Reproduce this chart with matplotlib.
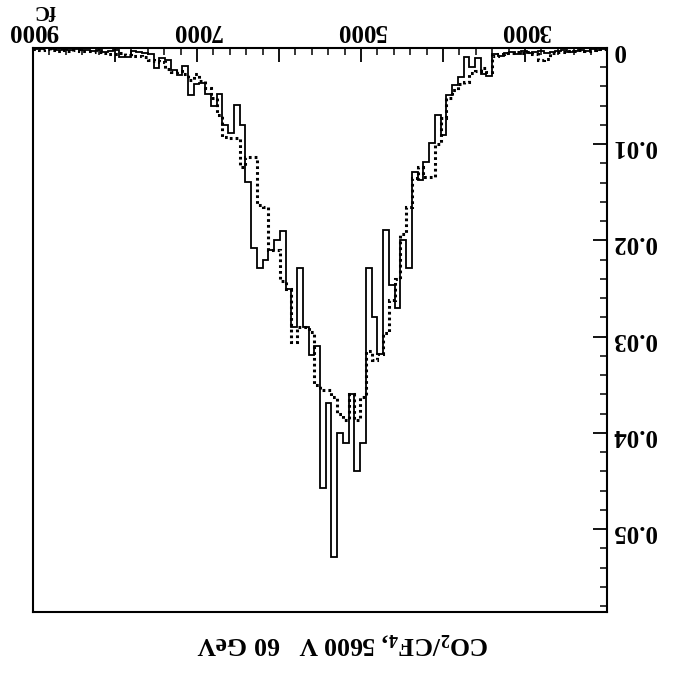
import numpy as np
import matplotlib
matplotlib.use("Agg")
import matplotlib.pyplot as plt
from matplotlib.ticker import MultipleLocator, FuncFormatter

plt.rcParams['font.family'] = 'Liberation Serif'
plt.rcParams['font.weight'] = 'bold'
plt.rcParams['mathtext.fontset'] = 'custom'
plt.rcParams['mathtext.rm'] = 'Liberation Serif:bold'
plt.rcParams['mathtext.bf'] = 'Liberation Serif:bold'

# charge spectrum, 100 bins of 70 fC from 2000 to 9000 fC (values in units of 1e-3)
q_lo, q_hi, n_bins = 2000, 9000, 100
solid_pm = [0.1, 0.2, 0.1, 0.3, 0.2, 0.3, 0.4, 0.2, 0.3, 0.4,
            0.5, 0.3, 0.4, 0.5, 0.3, 0.6, 0.4, 0.5, 0.8, 0.6,
            2.9, 2.7, 1.0, 2.0, 0.9, 3.0, 3.8, 4.9, 9.0, 7.0,
            9.9, 11.8, 13.7, 12.9, 22.9, 20.0, 27.0, 24.6, 18.9, 31.8,
            28.0, 22.9, 41.0, 43.9, 35.9, 41.0, 40.0, 52.9, 36.9, 45.7,
            31.0, 31.9, 29.0, 22.9, 29.0, 25.0, 19.0, 20.0, 21.0, 22.0,
            22.9, 20.8, 13.9, 8.0, 5.9, 8.8, 8.0, 4.8, 6.0, 4.8,
            3.6, 3.7, 4.9, 1.9, 2.8, 2.3, 1.2, 1.0, 2.1, 0.6,
            0.5, 0.4, 0.3, 0.9, 0.9, 0.2, 0.3, 0.4, 0.2, 0.3,
            0.2, 0.2, 0.1, 0.2, 0.1, 0.2, 0.1, 0.0, 0.1, 0.1]
dotted_pm = [0.1, 0.1, 0.2, 0.3, 0.2, 0.3, 0.3, 0.4, 0.4, 0.5,
             1.1, 1.2, 0.6, 0.4, 0.5, 0.4, 0.5, 0.5, 0.6, 0.8,
             2.5, 2.1, 2.4, 2.6, 3.5, 3.7, 4.4, 5.2, 7.3, 10.0,
             13.4, 13.4, 12.4, 13.5, 16.5, 19.3, 24.0, 26.2, 29.6, 31.8,
             32.4, 31.5, 36.3, 38.7, 35.9, 38.7, 38.0, 36.3, 35.5, 35.5,
             35.0, 29.5, 29.0, 29.0, 30.5, 25.0, 24.2, 21.0, 21.0, 16.5,
             16.3, 11.3, 11.3, 12.4, 9.4, 9.4, 9.2, 7.0, 5.2, 4.2,
             3.4, 2.7, 3.3, 2.7, 2.4, 2.5, 2.2, 1.5, 1.4, 1.2,
             0.9, 0.8, 0.8, 0.7, 0.5, 0.6, 0.6, 0.5, 0.4, 0.3,
             0.3, 0.3, 0.2, 0.3, 0.2, 0.3, 0.2, 0.1, 0.2, 0.1]

edges = np.linspace(q_lo, q_hi, n_bins + 1)
solid = np.array(solid_pm) * 1e-3
dotted = np.array(dotted_pm) * 1e-3

fig = plt.figure(figsize=(6.85, 6.74), dpi=100)
ax = fig.add_axes([33 / 685, 1 - 612 / 674, 574 / 685, 564 / 674])

ax.stairs(solid, edges, baseline=None, color='black', lw=1.3)
ax.stairs(dotted, edges, baseline=None, color='black', lw=2.2, linestyle=(0, (0.9, 1.0)))

# page is printed upside down
ax.set_xlim(q_hi, q_lo)
ax.set_ylim(0.0586, 0)

ax.xaxis.tick_top()
ax.yaxis.tick_right()
ax.xaxis.set_major_locator(MultipleLocator(1000))
ax.xaxis.set_minor_locator(MultipleLocator(200))
ax.yaxis.set_major_locator(MultipleLocator(0.01))
ax.yaxis.set_minor_locator(MultipleLocator(0.002))
ax.xaxis.set_major_formatter(FuncFormatter(lambda v, p: f"{v:.0f}" if int(round(v)) % 2000 == 1000 else ""))
ax.yaxis.set_major_formatter(FuncFormatter(lambda v, p: "0" if abs(v) < 1e-9 else f"{v:.2f}"))
ax.tick_params(which='major', direction='in', length=10, width=1.3, labelsize=18, labelrotation=180, pad=4)
ax.tick_params(which='minor', direction='in', length=5, width=1.1)
for s in ax.spines.values():
    s.set_linewidth(1.5)

fig.text(45 / 685, 1 - 10 / 674, "fC", rotation=180, ha='center', va='center', fontsize=15)
fig.text(343 / 685, 1 - 643 / 674, r"CO$_\mathbf{2}$/CF$_\mathbf{4}$, 5600 V   60 GeV",
         rotation=180, ha='center', va='center', fontsize=18.5)

fig.savefig("out.png", dpi=100)
